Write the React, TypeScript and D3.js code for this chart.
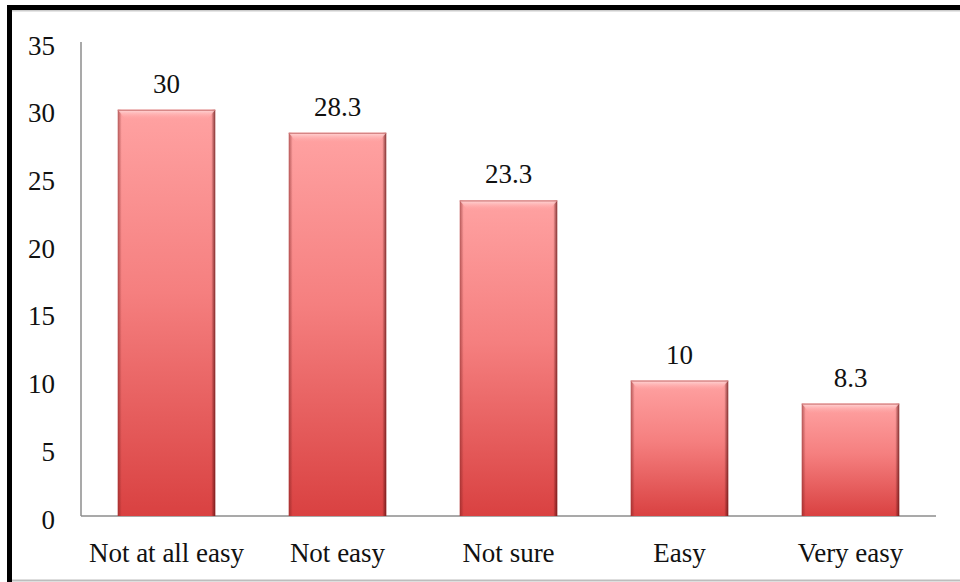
import React from "react";
import * as d3 from "d3";

const categories = ["Not at all easy", "Not easy", "Not sure", "Easy", "Very easy"];
const values = [30, 28.3, 23.3, 10, 8.3];
const valueLabels = ["30", "28.3", "23.3", "10", "8.3"];
const yTicks = [0, 5, 10, 15, 20, 25, 30, 35];

export default function App() {
  const W = 960, H = 582;
  const x0 = 81, x1 = 936, yBottom = 516, yTop = 42;
  const x = d3.scaleBand<string>().domain(categories).range([x0, x1]).paddingInner(0.43).paddingOuter(0.215);
  const y = d3.scaleLinear().domain([0, 35]).range([yBottom, yTop]);
  const font = "'Liberation Serif', 'Times New Roman', serif";
  const fs = 27;
  const bw = x.bandwidth();
  return (
    <svg width={W} height={H} style={{ position: "absolute", left: 0, top: 0, display: "block" }}>
      <defs>
        <linearGradient id="barG" x1="0" y1="0" x2="0" y2="1">
          <stop offset="0%" stopColor="#ffa2a2" />
          <stop offset="45%" stopColor="#f57f7f" />
          <stop offset="100%" stopColor="#d94141" />
        </linearGradient>
        <linearGradient id="topBev" x1="0" y1="0" x2="0" y2="1">
          <stop offset="0%" stopColor="#ffdada" />
          <stop offset="100%" stopColor="#ffa2a2" stopOpacity="0" />
        </linearGradient>
        <linearGradient id="sideL" x1="0" y1="0" x2="1" y2="0">
          <stop offset="0%" stopColor="#7a2020" stopOpacity="0.55" />
          <stop offset="100%" stopColor="#7a2020" stopOpacity="0" />
        </linearGradient>
        <linearGradient id="sideR" x1="1" y1="0" x2="0" y2="0">
          <stop offset="0%" stopColor="#5a1010" stopOpacity="0.75" />
          <stop offset="100%" stopColor="#5a1010" stopOpacity="0" />
        </linearGradient>
      </defs>
      <rect x={0} y={0} width={W} height={H} fill="#fff" />
      <rect x={7} y={5} width={W - 7} height={5} fill="#000" />
      <rect x={7} y={5} width={5} height={H - 5} fill="#000" />
      <rect x={12} y={10} width={W - 12} height={1.5} fill="#ccc" />
      <rect x={12} y={579.5} width={W - 12} height={2} fill="#bdbdbd" />
      <line x1={x0} x2={x0} y1={yTop} y2={yBottom} stroke="#8c8c8c" strokeWidth={1.5} />
      <line x1={x0} x2={x1} y1={yBottom} y2={yBottom} stroke="#8c8c8c" strokeWidth={1.5} />
      {yTicks.map((t) => (
        <text key={t} x={55} y={y(t) + 3.5} textAnchor="end" dominantBaseline="central" fontFamily={font} fontSize={fs} fill="#111">
          {t}
        </text>
      ))}
      {categories.map((c, i) => {
        const bx = x(c)!;
        const by = y(values[i]);
        const bh = yBottom - by;
        return (
          <g key={c}>
            <rect x={bx} y={by} width={bw} height={bh} fill="url(#barG)" />
            <rect x={bx} y={by} width={4} height={bh} fill="url(#sideL)" />
            <rect x={bx + bw - 4} y={by} width={4} height={bh} fill="url(#sideR)" />
            <polygon points={`${bx},${by} ${bx + bw},${by} ${bx + bw - 8},${by + 10} ${bx + 8},${by + 10}`} fill="url(#topBev)" />
            <line x1={bx} x2={bx + bw} y1={by + 0.5} y2={by + 0.5} stroke="#c86a6a" strokeWidth={1} />
            <text x={bx + bw / 2} y={by - 17} textAnchor="middle" fontFamily={font} fontSize={fs} fill="#111">
              {valueLabels[i]}
            </text>
            <text x={bx + bw / 2} y={562} textAnchor="middle" fontFamily={font} fontSize={fs} fill="#111">
              {c}
            </text>
          </g>
        );
      })}
    </svg>
  );
}
